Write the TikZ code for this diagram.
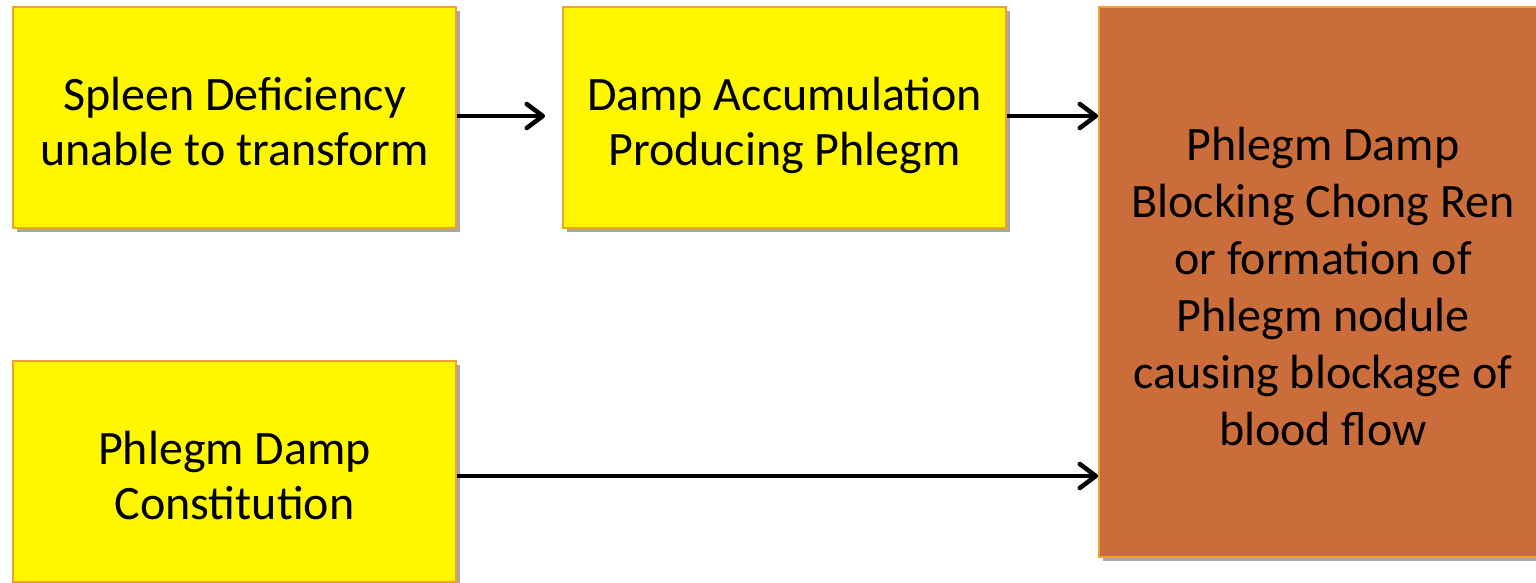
\documentclass[tikz,border=0pt]{standalone}
\usepackage{fontspec}
\setmainfont{Carlito}
\usetikzlibrary{arrows.meta,shadows}
\definecolor{boxyellow}{HTML}{FFF700}
\definecolor{boxborder}{HTML}{F0A030}
\definecolor{boxbrown}{HTML}{CB6D3A}
\tikzset{
  yellowbox/.style={draw=boxborder, line width=2pt, fill=boxyellow, minimum width=443pt, minimum height=221pt, inner sep=0pt, align=center, font=\fontsize{48}{55}\selectfont,
    drop shadow={shadow xshift=4pt, shadow yshift=-4pt, fill=black, opacity=0.35}},
  brownbox/.style={draw=boxborder, line width=2pt, fill=boxbrown, minimum width=448pt, minimum height=550pt, inner sep=0pt, align=center, font=\fontsize{48}{57}\selectfont,
    drop shadow={shadow xshift=4pt, shadow yshift=-4pt, fill=black, opacity=0.35}},
  flowarrow/.style={line width=3.2pt, -{Straight Barb[length=16pt,width=24pt,line width=4.5pt,line cap=round, line join=round]}}
}
\newcommand{\dn}[2]{\raisebox{0pt}[\dimexpr\height+#1\relax][\depth]{\begin{tabular}{@{}c@{}}#2\end{tabular}}}
\begin{document}
\begin{tikzpicture}[x=1pt,y=-1pt]
\useasboundingbox (0,0) rectangle (1536,582);
\clip (0,0) rectangle (1536,582);
\node[yellowbox] (a) at (234.5,117.5) {\dn{18pt}{Spleen Deficiency\\unable to transform}};
\node[yellowbox] (b) at (784.5,117.5) {\dn{18pt}{Damp Accumulation\\Producing Phlegm}};
\node[yellowbox] (c) at (234.5,471.5) {\dn{18pt}{Phlegm Damp\\Constitution}};
\node[brownbox] (d) at (1323,282) {\dn{20pt}{Phlegm Damp\\Blocking Chong Ren\\or formation of\\Phlegm nodule\\causing blockage of\\blood flow}};
\coordinate (a1) at (456,116);
\coordinate (b0) at (545,116);
\coordinate (b1) at (1012,116);
\coordinate (d0) at (1098,116);
\coordinate (c1) at (456,476);
\coordinate (d1) at (1098,476);
\draw[flowarrow] (a.east |- a1) -- (b0);
\draw[flowarrow] (b.east |- b1) -- (d0);
\draw[flowarrow] (c.east |- c1) -- (d1);
\end{tikzpicture}
\end{document}
